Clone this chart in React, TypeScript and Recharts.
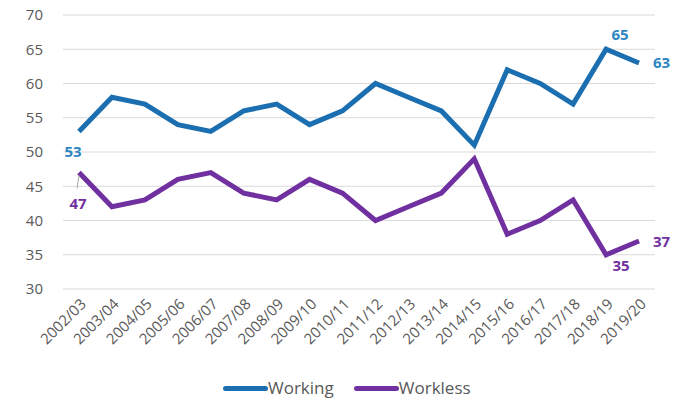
import { LineChart, Line, XAxis, YAxis, CartesianGrid, LabelList } from 'recharts';

const years = [
  '2002/03', '2003/04', '2004/05', '2005/06', '2006/07', '2007/08', '2008/09', '2009/10', '2010/11',
  '2011/12', '2012/13', '2013/14', '2014/15', '2015/16', '2016/17', '2017/18', '2018/19', '2019/20',
];
const working = [53, 58, 57, 54, 53, 56, 57, 54, 56, 60, 58, 56, 51, 62, 60, 57, 65, 63];
const workless = [47, 42, 43, 46, 47, 44, 43, 46, 44, 40, 42, 44, 49, 38, 40, 43, 35, 37];
const yTicks = [30, 35, 40, 45, 50, 55, 60, 65, 70];

const BLUE = '#1B6FB0';
const PURPLE = '#7030A0';
const FONT = '"Open Sans", Lato, sans-serif';

const data = years.map((y, i) => ({ year: y, working: working[i], workless: workless[i] }));

const AngledTick = ({ x, y, payload }: any) => (
  <text
    x={x + 8}
    y={y + 8}
    textAnchor="end"
    transform={`rotate(-45, ${x + 8}, ${y + 8})`}
    fill="#595959"
    fontSize={15}
    fontFamily={FONT}
  >
    {payload.value}
  </text>
);

// only first point and the last two get labels, placed like the original
const workingLabel = ({ x, y, value, index }: any) => {
  if (index === 0)
    return <text x={x - 6} y={y + 26} textAnchor="middle" fill="#2E86C1" fontWeight={700} fontSize={15} fontFamily={FONT}>{value}</text>;
  if (index === 16)
    return <text x={x + 14} y={y - 9} textAnchor="middle" fill="#2E86C1" fontWeight={700} fontSize={15} fontFamily={FONT}>{value}</text>;
  if (index === 17)
    return <text x={x + 14} y={y + 5} textAnchor="start" fill="#2E86C1" fontWeight={700} fontSize={15} fontFamily={FONT}>{value}</text>;
  return null;
};

const worklessLabel = ({ x, y, value, index }: any) => {
  if (index === 0)
    return (
      <g>
        <line x1={x} y1={y + 3} x2={x - 2} y2={y + 16} stroke="#A6A6A6" strokeWidth={1} />
        <text x={x - 1} y={y + 36} textAnchor="middle" fill={PURPLE} fontWeight={700} fontSize={15} fontFamily={FONT}>{value}</text>
      </g>
    );
  if (index === 16)
    return <text x={x + 15} y={y + 16} textAnchor="middle" fill={PURPLE} fontWeight={700} fontSize={15} fontFamily={FONT}>{value}</text>;
  if (index === 17)
    return <text x={x + 14} y={y + 6} textAnchor="start" fill={PURPLE} fontWeight={700} fontSize={15} fontFamily={FONT}>{value}</text>;
  return null;
};

export default function App() {
  return (
    <div style={{ position: 'absolute', left: 0, top: 0, width: 690, height: 401, background: '#fff', overflow: 'hidden' }}>
      <LineChart width={690} height={401} data={data} margin={{ top: 15, right: 35, left: 0, bottom: 52 }}>
        <CartesianGrid vertical={false} stroke="#D9D9D9" />
        <XAxis
          dataKey="year"
          interval={0}
          padding={{ left: 16, right: 16 }}
          axisLine={false}
          tickLine={false}
          tick={<AngledTick />}
          height={60}
        />
        <YAxis
          domain={[30, 70]}
          ticks={yTicks}
          width={63}
          axisLine={false}
          tickLine={false}
          tickMargin={14}
          tick={{ fill: '#595959', fontSize: 15, fontFamily: FONT }}
        />
        <Line dataKey="working" stroke={BLUE} strokeWidth={5} dot={false} isAnimationActive={false} strokeLinejoin="miter">
          <LabelList dataKey="working" content={workingLabel} />
        </Line>
        <Line dataKey="workless" stroke={PURPLE} strokeWidth={5} dot={false} isAnimationActive={false} strokeLinejoin="miter">
          <LabelList dataKey="workless" content={worklessLabel} />
        </Line>
      </LineChart>
      <div
        style={{
          position: 'absolute',
          top: 377,
          left: 223,
          display: 'flex',
          fontFamily: FONT,
          fontSize: 17,
          color: '#595959',
          lineHeight: '22px',
        }}
      >
        <span style={{ display: 'flex', alignItems: 'center', marginRight: 20 }}>
          <span style={{ display: 'inline-block', width: 45, height: 5, background: BLUE, borderRadius: 3 }} />
          Working
        </span>
        <span style={{ display: 'flex', alignItems: 'center' }}>
          <span style={{ display: 'inline-block', width: 45, height: 5, background: PURPLE, borderRadius: 3 }} />
          Workless
        </span>
      </div>
    </div>
  );
}
